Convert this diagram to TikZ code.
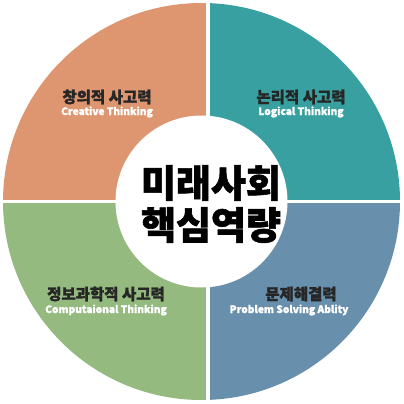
\documentclass[tikz,border=0pt]{standalone}
\usepackage{fontspec}
\newfontfamily\krfont{Noto Sans CJK KR}[UprightFont=* Black,BoldFont=* Black,FakeBold=1.6]
\definecolor{crorange}{RGB}{222,150,112}
\definecolor{lgteal}{RGB}{56,160,160}
\definecolor{ctgreen}{RGB}{148,186,128}
\definecolor{psblue}{RGB}{104,144,172}
\begin{document}
\begin{tikzpicture}[x=1pt,y=-1pt,kor/.style={font=\krfont\fontsize{15.5}{17}\selectfont,text=black!85,inner sep=0pt},eng/.style={font=\krfont\fontsize{10.2}{12}\selectfont,text=white,inner sep=0pt},core/.style={font=\krfont\fontsize{38}{42}\selectfont,inner sep=0pt}]
\useasboundingbox (0,0) rectangle (404,404);

% four quadrants
\begin{scope}
\clip (201.5,201.5) circle (198.5);
\fill[crorange] (0,0) rectangle (208,201.5);
\fill[lgteal] (208,0) rectangle (404,201.5);
\fill[ctgreen] (0,201.5) rectangle (208,404);
\fill[psblue] (208,201.5) rectangle (404,404);
\end{scope}
\fill[white] (206,0) rectangle (210,404);
\fill[white] (0,200) rectangle (404,203);
\fill[white] (201.5,201.5) circle (86);

\node[kor] (cre) at(107,97) {창의적 사고력};
\node[eng] (creE) at(107,112) {Creative Thinking};
\node[kor] (log) at(301,97) {논리적 사고력};
\node[eng] (logE) at(301,112) {Logical Thinking};
\node[kor] (com) at(106,294) {정보과학적 사고력};
\node[eng] (comE) at(106,310) {Computaional Thinking};
\node[kor] (pro) at(301,294) {문제해결력};
\node[eng] (proE) at(289,310) {Problem Solving Ablity};
\node[core] (top) at(211,183) {미래사회};
\node[core] (bot) at(211,225) {핵심역량};
\end{tikzpicture}
\end{document}
